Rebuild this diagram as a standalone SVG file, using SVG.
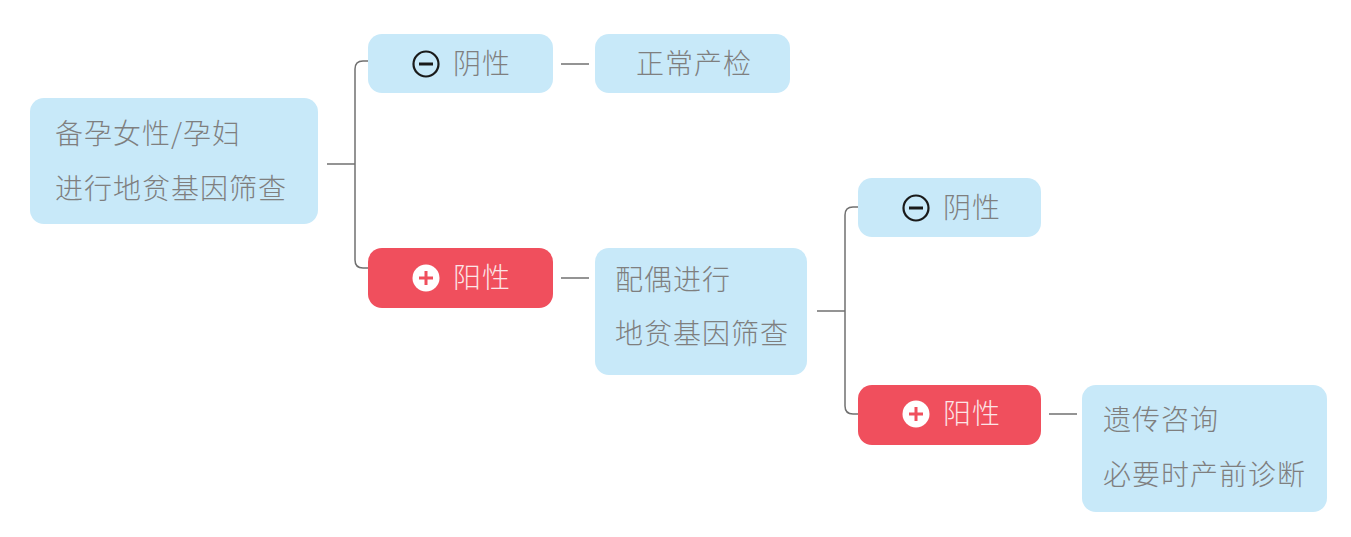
<svg xmlns="http://www.w3.org/2000/svg" width="1351" height="537" viewBox="0 0 1351 537">
<style>
.b{fill:#C8E9F9}
.r{fill:#F04F5D}
.t{font-family:"Noto Sans CJK SC","Noto Sans",sans-serif;font-size:28px;font-weight:300;fill:#7f7f7f;letter-spacing:1px}
.tw{font-family:"Noto Sans CJK SC","Noto Sans",sans-serif;font-size:28px;font-weight:300;fill:#FCE4E6;letter-spacing:1px}
.c{fill:none;stroke:#707070;stroke-width:1.5}
.ic{fill:none;stroke:#1a1a1a;stroke-width:2.2}
</style>
<rect width="1351" height="537" fill="#fff"/>
<g id="connectors">
<path class="c" d="M327 164H355"/>
<path class="c" d="M368 61H363Q355 61 355 69V260Q355 268 363 268H368"/>
<path class="c" d="M561 64H589"/>
<path class="c" d="M561 278H589"/>
<path class="c" d="M817 311H845"/>
<path class="c" d="M858 207H853Q845 207 845 215V406Q845 414 853 414H858"/>
<path class="c" d="M1049 414H1077"/>
</g>
<g id="root">
<rect class="b" x="30" y="98" width="288" height="126" rx="14"/>
<text class="t" x="55" y="144">备孕女性/孕妇</text>
<text class="t" x="55" y="199">进行地贫基因筛查</text>
</g>
<g id="neg1">
<rect class="b" x="368" y="34" width="185" height="59" rx="14"/>
<circle class="ic" cx="426" cy="64" r="12.5"/>
<path d="M419 64H433" stroke="#1a1a1a" stroke-width="3"/>
<text class="t" x="453" y="74">阴性</text>
</g>
<g id="pos1">
<rect class="r" x="368" y="248" width="185" height="60" rx="14"/>
<circle cx="426" cy="278" r="13.5" fill="#fff"/>
<path d="M419 278H433M426 271V285" stroke="#F04F5D" stroke-width="3"/>
<text class="tw" x="453" y="288">阳性</text>
</g>
<g id="normal">
<rect class="b" x="595" y="34" width="195" height="59" rx="14"/>
<text class="t" x="636" y="74">正常产检</text>
</g>
<g id="spouse">
<rect class="b" x="595" y="248" width="212" height="127" rx="14"/>
<text class="t" x="615" y="290">配偶进行</text>
<text class="t" x="615" y="344">地贫基因筛查</text>
</g>
<g id="neg2">
<rect class="b" x="858" y="178" width="183" height="59" rx="14"/>
<circle class="ic" cx="916" cy="208" r="12.5"/>
<path d="M909 208H923" stroke="#1a1a1a" stroke-width="3"/>
<text class="t" x="943" y="218">阴性</text>
</g>
<g id="pos2">
<rect class="r" x="858" y="385" width="183" height="60" rx="14"/>
<circle cx="916" cy="414" r="13.5" fill="#fff"/>
<path d="M909 414H923M916 407V421" stroke="#F04F5D" stroke-width="3"/>
<text class="tw" x="943" y="424">阳性</text>
</g>
<g id="counsel">
<rect class="b" x="1082" y="385" width="245" height="127" rx="14"/>
<text class="t" x="1103" y="430">遗传咨询</text>
<text class="t" x="1103" y="485">必要时产前诊断</text>
</g>
</svg>
